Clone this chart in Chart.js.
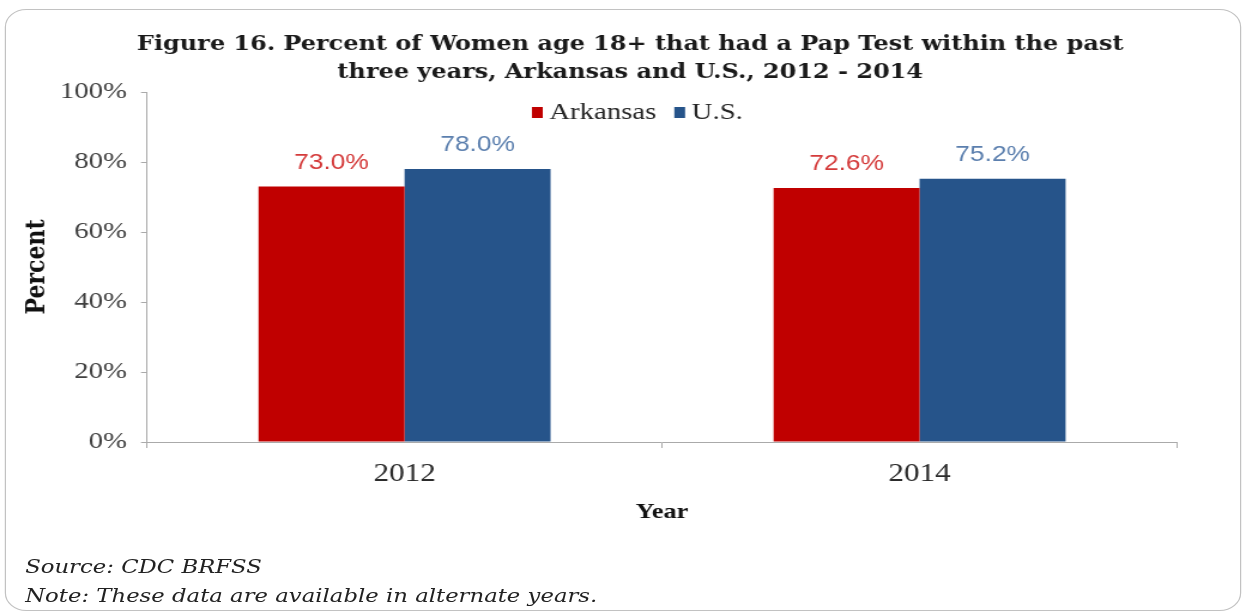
<!DOCTYPE html>
<html>
<head>
<meta charset="utf-8">
<script src="https://cdn.jsdelivr.net/npm/chart.js@4/dist/chart.umd.min.js"></script>
<style>
  html, body { margin: 0; padding: 0; background: #fff; overflow: hidden; }
  /* the whole figure is drawn narrower and widened as one piece */
  #wrap { position: absolute; left: 0; top: 0; width: 1040px; height: 613px;
          transform: scaleX(1.198077); transform-origin: 0 0; }
  #frame { position: absolute; left: 4px; top: 9px; width: 1032px; height: 602px;
           box-sizing: border-box; border: 1.5px solid #c2c2c2; border-radius: 18px; }
  #myChart { position: absolute; left: 0; top: 0; }
  .note { position: absolute; left: 21px; font: italic 19px "DejaVu Serif", serif;
          color: #222; white-space: nowrap; line-height: 29px; }
</style>
</head>
<body>
<div id="wrap">
  <div id="frame"></div>
  <canvas id="myChart" width="1040" height="613"></canvas>
  <div class="note" style="top:552px">Source: CDC BRFSS</div>
  <div class="note" style="top:581px">Note: These data are available in alternate years.</div>
</div>
<script>
let years = ['2012', '2014'];
let seriesNames = ['Arkansas', 'U.S.'];
let arkansas = [73.0, 72.6];
let usa = [78.0, 75.2];
let yTicks = [0, 20, 40, 60, 80, 100];

let titleLines = [
  'Figure 16. Percent of Women age 18+ that had a Pap Test within the past',
  'three years, Arkansas and U.S., 2012 - 2014'
];

const barColors = ['#c00000', '#26548a'];
const labelColors = ['#d43a3a', '#5b7fae'];
const axisGray = '#aaaaaa';
const serif = '"Liberation Serif", serif';

// title, legend and value labels drawn straight on the canvas
const annotate = {
  id: 'annotate',
  afterDatasetsDraw(chart) {
    const c = chart.ctx;
    c.save();
    c.font = '22px "Liberation Sans", sans-serif';
    c.textAlign = 'center';
    c.textBaseline = 'alphabetic';
    chart.data.datasets.forEach((ds, i) => {
      chart.getDatasetMeta(i).data.forEach((bar, j) => {
        c.fillStyle = labelColors[i];
        c.fillText(ds.data[j].toFixed(1) + '%', bar.x, bar.y - 18);
      });
    });
    c.restore();
  },
  afterDraw(chart) {
    const c = chart.ctx;
    c.save();
    // title
    c.font = 'bold 20px "DejaVu Serif", serif';
    c.fillStyle = '#1a1a1a';
    c.textAlign = 'center';
    c.textBaseline = 'middle';
    titleLines.forEach((line, i) => c.fillText(line, 526, 45 + i * 28));

    // legend
    c.font = '24px ' + serif;
    c.textAlign = 'left';
    const box = 9, gap = 5.5, itemGap = 15;
    let widths = seriesNames.map(n => c.measureText(n).width);
    let total = widths.reduce((a, w) => a + w + box + gap, 0) + itemGap * (seriesNames.length - 1);
    let x = 532 - total / 2;
    seriesNames.forEach((name, i) => {
      c.fillStyle = barColors[i];
      c.fillRect(x, 107, box, 11);
      c.fillStyle = '#262626';
      c.fillText(name, x + box + gap, 113);
      x += box + gap + widths[i] + itemGap;
    });
    c.restore();
  }
};

let ctx = document.getElementById('myChart').getContext('2d');
let myChart = new Chart(ctx, {
  type: 'bar',
  data: {
    labels: years,
    datasets: [
      { label: seriesNames[0], data: arkansas, backgroundColor: barColors[0] },
      { label: seriesNames[1], data: usa, backgroundColor: barColors[1] }
    ]
  },
  options: {
    responsive: false,
    animation: false,
    devicePixelRatio: 1,
    layout: { padding: { top: 92, right: 57.5, bottom: 71, left: 0 } },
    datasets: { bar: { categoryPercentage: 0.567, barPercentage: 1 } },
    plugins: {
      legend: { display: false },
      title: { display: false },
      tooltip: { enabled: false }
    },
    scales: {
      x: {
        grid: { drawOnChartArea: false, tickLength: 6, color: axisGray, offset: true },
        border: { color: axisGray, width: 1 },
        ticks: { font: { family: serif, size: 26 }, color: '#2b2b2b', padding: 11 },
        title: {
          display: true, text: 'Year', color: '#111',
          font: { family: serif, size: 22, weight: 'bold' },
          padding: { top: 0, bottom: 16 }
        },
        afterFit(scale) { scale.height = 100; }
      },
      y: {
        min: 0,
        max: 100,
        afterBuildTicks(scale) { scale.ticks = yTicks.map(v => ({ value: v })); },
        ticks: {
          callback: v => v + '%',
          font: { family: serif, size: 24 }, color: '#404040', padding: 11.7
        },
        grid: { drawOnChartArea: false, tickLength: 5, color: axisGray },
        border: { color: axisGray, width: 1 },
        title: {
          display: true, text: 'Percent', color: '#111',
          font: { family: '"DejaVu Serif", serif', size: 22, weight: 'bold' },
          padding: { top: 17.7, bottom: 0 }
        },
        afterFit(scale) { scale.width = 122.7; }
      }
    }
  },
  plugins: [annotate]
});
</script>
</body>
</html>
